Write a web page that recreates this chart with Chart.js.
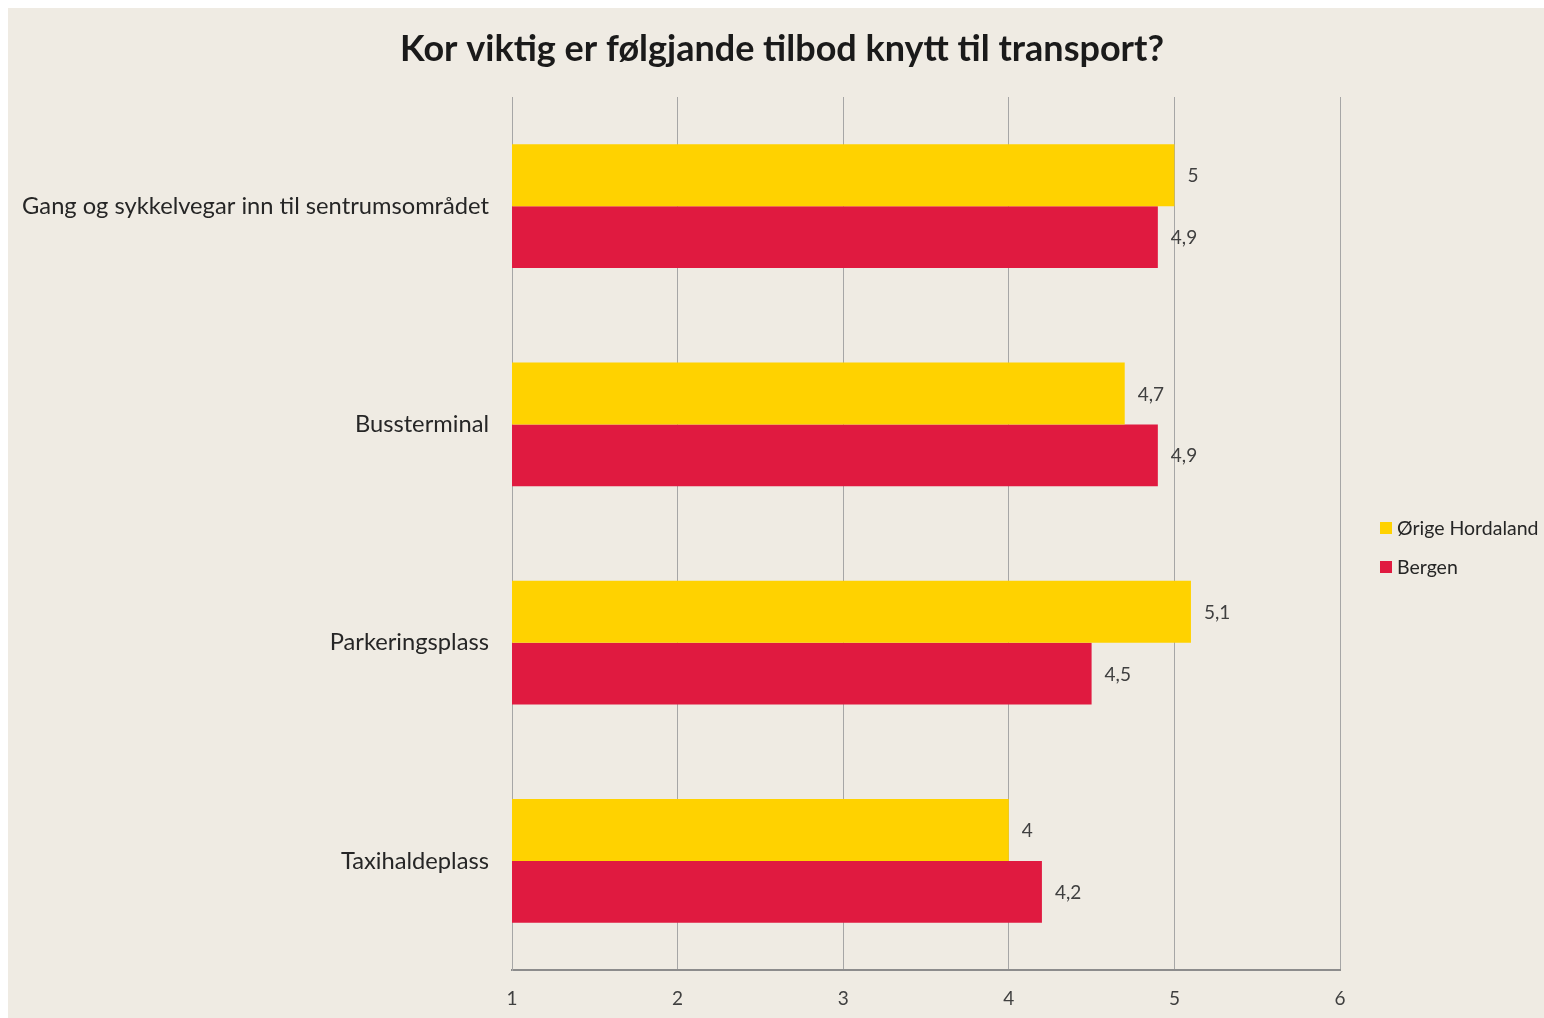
<!DOCTYPE html>
<html>
<head>
<meta charset="utf-8">
<script src="https://cdn.jsdelivr.net/npm/chart.js@4.4.1/dist/chart.umd.min.js"></script>
<style>
  html, body { margin: 0; padding: 0; background: #ffffff; }
  #wrap { position: absolute; left: 8px; top: 8px; width: 1536px; height: 1010px; background: #EFEBE3; }
  canvas { display: block; }
</style>
</head>
<body>
<div id="wrap"><canvas id="c" width="1536" height="1010"></canvas></div>
<script>
const categories = ["Gang og sykkelvegar inn til sentrumsområdet", "Bussterminal", "Parkeringsplass", "Taxihaldeplass"];
const seriesNames = ["Ørige Hordaland", "Bergen"];
const origeHordaland = [5, 4.7, 5.1, 4];
const bergen = [4.9, 4.9, 4.5, 4.2];
const xTicks = [1, 2, 3, 4, 5, 6];
const titleText = "Kor viktig er følgjande tilbod knytt til transport?";

const FONT = "Lato, 'Open Sans', sans-serif";
const colors = ["#FFD200", "#E01A40"];

const valueLabels = {
  id: 'valueLabels',
  afterDatasetsDraw(chart) {
    const ctx = chart.ctx;
    ctx.save();
    ctx.font = "19px " + FONT;
    ctx.fillStyle = "#404040";
    ctx.textBaseline = "middle";
    ctx.textAlign = "left";
    chart.data.datasets.forEach((ds, i) => {
      const meta = chart.getDatasetMeta(i);
      meta.data.forEach((bar, j) => {
        const txt = String(ds.data[j]).replace('.', ',');
        ctx.fillText(txt, bar.x + 13, bar.y + 1);
      });
    });
    ctx.restore();
  }
};

const customTitleAndLegend = {
  id: 'customTitleAndLegend',
  afterDraw(chart) {
    const ctx = chart.ctx;
    ctx.save();
    ctx.font = "bold 36px " + FONT;
    ctx.fillStyle = "#1a1a1a";
    ctx.textBaseline = "middle";
    ctx.textAlign = "center";
    ctx.fillText(titleText, 774, 41);

    ctx.font = "19.5px " + FONT;
    ctx.textAlign = "left";
    const x0 = 1372, y0 = 520, step = 39;
    chart.data.datasets.forEach((ds, i) => {
      const y = y0 + i * step;
      ctx.fillStyle = ds.backgroundColor;
      ctx.fillRect(x0, y - 6, 12, 12);
      ctx.fillStyle = "#262626";
      ctx.fillText(ds.label, x0 + 17, y + 1);
    });
    ctx.restore();
  }
};

new Chart(document.getElementById('c'), {
  type: 'bar',
  data: {
    labels: categories,
    datasets: [
      { label: seriesNames[0], data: origeHordaland, backgroundColor: colors[0] },
      { label: seriesNames[1], data: bergen, backgroundColor: colors[1] }
    ]
  },
  options: {
    indexAxis: 'y',
    responsive: false,
    animation: false,
    devicePixelRatio: 1,
    layout: { padding: { left: 0, right: 204, top: 89, bottom: 0 } },
    datasets: { bar: { barPercentage: 1, categoryPercentage: 0.568, borderWidth: 0 } },
    plugins: {
      legend: { display: false },
      tooltip: { enabled: false },
      title: { display: false }
    },
    scales: {
      x: {
        type: 'linear',
        min: xTicks[0],
        max: xTicks[xTicks.length - 1],
        afterBuildTicks(scale) { scale.ticks = xTicks.map(v => ({ value: v })); },
        afterFit(scale) { scale.height = 48; },
        grid: { color: "#A6A6A6", lineWidth: 1, drawTicks: false },
        border: { display: true, color: "#8C8C8C", width: 2 },
        ticks: { color: "#404040", font: { family: FONT, size: 19 }, padding: 17 }
      },
      y: {
        afterFit(scale) { scale.width = 504; },
        grid: { display: false, drawTicks: false },
        border: { display: true, color: "#A6A6A6", width: 1 },
        ticks: { color: "#262626", font: { family: FONT, size: 23.7 }, padding: 23 }
      }
    }
  },
  plugins: [valueLabels, customTitleAndLegend]
});
</script>
</body>
</html>
